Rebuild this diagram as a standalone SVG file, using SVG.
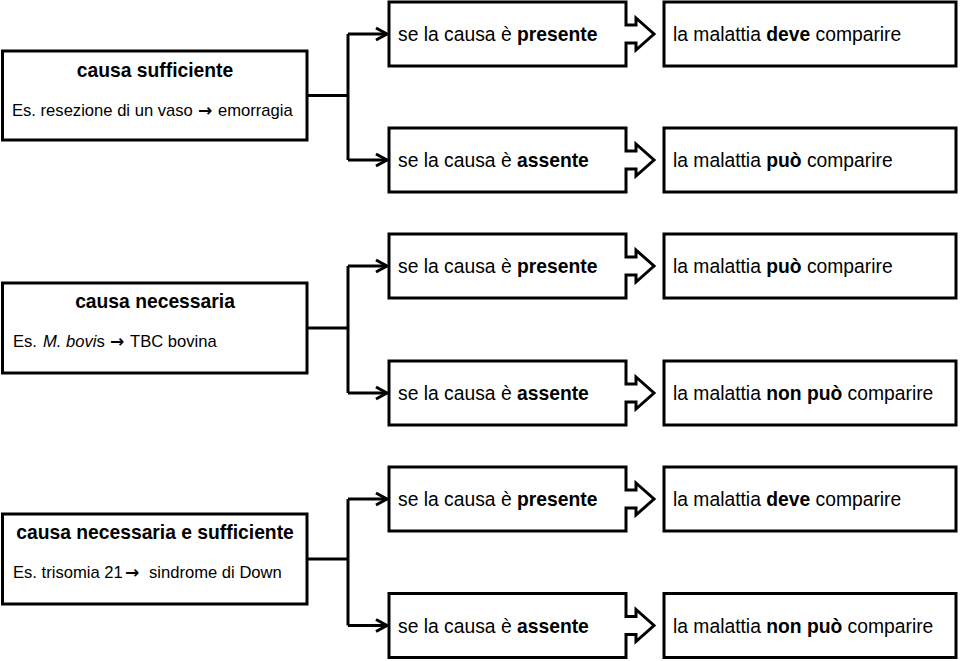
<svg xmlns="http://www.w3.org/2000/svg" width="960" height="661" viewBox="0 0 960 661">
<defs>
<style>
.box{fill:#fff;stroke:#000;stroke-width:3;stroke-linejoin:miter}
.con{fill:none;stroke:#000;stroke-width:3}
.t{font-family:"Liberation Sans",Arial,sans-serif;font-size:19.3px;fill:#000}
.h{font-family:"Liberation Sans",Arial,sans-serif;font-size:19.3px;font-weight:bold;fill:#000;text-anchor:middle}
.s{font-family:"Liberation Sans",Arial,sans-serif;font-size:16.6px;fill:#000}
.b{font-weight:bold}
.i{font-style:italic}
.ar{font-family:"DejaVu Sans",sans-serif;font-weight:bold;font-size:17px}
</style>
<marker id="chev" markerUnits="userSpaceOnUse" markerWidth="16" markerHeight="16" refX="11" refY="6" orient="auto" overflow="visible">
<path d="M0,0 L11,6 L0,12" fill="none" stroke="#000" stroke-width="3"/>
</marker>
</defs>
<rect width="960" height="661" fill="#fff"/>

<g id="connectors">
<path class="con" d="M307,95.5 H348"/>
<path class="con" d="M348,34 V160"/>
<path class="con" d="M348,34 H387" marker-end="url(#chev)"/>
<path class="con" d="M348,160 H387" marker-end="url(#chev)"/>
<path class="con" d="M307,328 H348"/>
<path class="con" d="M348,266 V393"/>
<path class="con" d="M348,266 H387" marker-end="url(#chev)"/>
<path class="con" d="M348,393 H387" marker-end="url(#chev)"/>
<path class="con" d="M307,559 H348"/>
<path class="con" d="M348,499 V625.5"/>
<path class="con" d="M348,499 H387" marker-end="url(#chev)"/>
<path class="con" d="M348,625.5 H387" marker-end="url(#chev)"/>
</g>

<g id="cause1">
<rect class="box" x="2.5" y="51" width="304.5" height="89"/>
<text class="h" x="155" y="77">causa sufficiente</text>
<text class="s" y="116"><tspan x="12">Es. resezione di un vaso</tspan><tspan x="198" class="ar">→</tspan><tspan x="218">emorragia</tspan></text>
</g>
<g id="cause1-present">
<path class="box" d="M389,2 H626 V25 H636 V18 L654,34 L636,50 V43 H626 V66 H389 Z"/>
<text class="t" x="398" y="41">se la causa è <tspan class="b">presente</tspan></text>
</g>
<g id="cause1-present-result">
<rect class="box" x="664" y="2" width="292" height="64"/>
<text class="t" x="673" y="41">la malattia <tspan class="b">deve</tspan> comparire</text>
</g>
<g id="cause1-absent">
<path class="box" d="M389,128 H626 V151 H636 V144 L654,160 L636,176 V169 H626 V192 H389 Z"/>
<text class="t" x="398" y="167">se la causa è <tspan class="b">assente</tspan></text>
</g>
<g id="cause1-absent-result">
<rect class="box" x="664" y="128" width="292" height="64"/>
<text class="t" x="673" y="167">la malattia <tspan class="b">può</tspan> comparire</text>
</g>

<g id="cause2">
<rect class="box" x="2.5" y="283" width="304.5" height="90"/>
<text class="h" x="155" y="308">causa necessaria</text>
<text class="s" y="347"><tspan x="13">Es. </tspan><tspan x="43" class="i">M. bovi</tspan><tspan>s</tspan><tspan x="110" class="ar">→</tspan><tspan x="130">TBC bovina</tspan></text>
</g>
<g id="cause2-present">
<path class="box" d="M389,234 H626 V257 H636 V250 L654,266 L636,282 V275 H626 V298 H389 Z"/>
<text class="t" x="398" y="273">se la causa è <tspan class="b">presente</tspan></text>
</g>
<g id="cause2-present-result">
<rect class="box" x="664" y="234" width="292" height="64"/>
<text class="t" x="673" y="273">la malattia <tspan class="b">può</tspan> comparire</text>
</g>
<g id="cause2-absent">
<path class="box" d="M389,361 H626 V384 H636 V377 L654,393 L636,409 V402 H626 V425 H389 Z"/>
<text class="t" x="398" y="400">se la causa è <tspan class="b">assente</tspan></text>
</g>
<g id="cause2-absent-result">
<rect class="box" x="664" y="361" width="292" height="64"/>
<text class="t" x="673" y="400">la malattia <tspan class="b">non può</tspan> comparire</text>
</g>

<g id="cause3">
<rect class="box" x="2.5" y="514" width="304.5" height="90"/>
<text class="h" x="155" y="539">causa necessaria e sufficiente</text>
<text class="s" y="578"><tspan x="13">Es. trisomia 21</tspan><tspan x="125" class="ar">→</tspan><tspan x="149">sindrome di Down</tspan></text>
</g>
<g id="cause3-present">
<path class="box" d="M389,467 H626 V490 H636 V483 L654,499 L636,515 V508 H626 V531 H389 Z"/>
<text class="t" x="398" y="506">se la causa è <tspan class="b">presente</tspan></text>
</g>
<g id="cause3-present-result">
<rect class="box" x="664" y="467" width="292" height="64"/>
<text class="t" x="673" y="506">la malattia <tspan class="b">deve</tspan> comparire</text>
</g>
<g id="cause3-absent">
<path class="box" d="M389,593.5 H626 V616.5 H636 V609.5 L654,625.5 L636,641.5 V634.5 H626 V657.5 H389 Z"/>
<text class="t" x="398" y="632.5">se la causa è <tspan class="b">assente</tspan></text>
</g>
<g id="cause3-absent-result">
<rect class="box" x="664" y="593.5" width="292" height="64"/>
<text class="t" x="673" y="632.5">la malattia <tspan class="b">non può</tspan> comparire</text>
</g>
</svg>
